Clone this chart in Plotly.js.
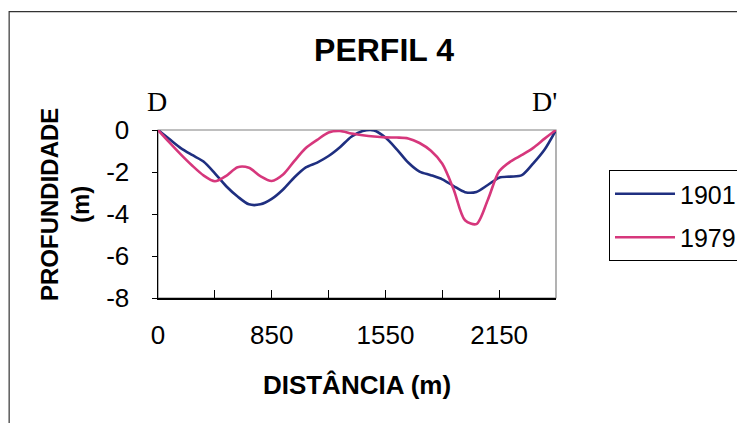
<!DOCTYPE html>
<html>
<head>
<meta charset="utf-8">
<script src="https://cdn.plot.ly/plotly-3.0.1.min.js"></script>
<style>html,body{margin:0;padding:0;background:#fff;}#chart{width:737px;height:423px;}</style>
</head>
<body>
<div id="chart"></div>
<script>
// Distance categories (m)
var distances = ['0','85','170','255','340','425','510','595','680','765','850',
  '920','990','1060','1130','1200','1270','1340','1410','1480','1550',
  '1610','1670','1730','1790','1850','1910','1970','2030','2090','2150',
  '2210','2270','2330','2390','2450'];
// Depth (m), survey of 1901
var depth1901 = [0,-0.43,-0.86,-1.19,-1.50,-2.06,-2.68,-3.17,-3.54,-3.54,-3.28,
  -2.83,-2.25,-1.78,-1.55,-1.24,-0.82,-0.32,-0.05,-0.02,-0.36,
  -0.92,-1.55,-1.98,-2.15,-2.35,-2.67,-2.96,-2.95,-2.62,-2.27,
  -2.22,-2.15,-1.59,-0.93,0];
// Depth (m), survey of 1979
var depth1979 = [0,-0.59,-1.16,-1.69,-2.16,-2.44,-2.18,-1.77,-1.80,-2.20,-2.43,
  -2.12,-1.47,-0.86,-0.47,-0.12,-0.05,-0.17,-0.25,-0.31,-0.35,
  -0.36,-0.40,-0.62,-0.99,-1.61,-2.83,-4.30,-4.48,-3.33,-1.97,
  -1.50,-1.19,-0.85,-0.41,0];
var tickCats = ['0','425','850','1200','1550','1850','2150','2450'];
var tickLabels = ['0','','850','','1550','','2150',''];
var yTicks = [0,-2,-4,-6,-8];
var yTickLabels = ['0','-2','-4','-6','-8'];

var FONT = '"Liberation Sans", Arial, sans-serif';
var traces = [
  {x: distances, y: depth1901, name: '1901', legendgroup: 'a', type: 'scatter', mode: 'lines',
   line: {color: '#1f2f80', width: 2.6, shape: 'spline', smoothing: 0.8}},
  {x: distances, y: depth1979, name: '1979', legendgroup: 'b', type: 'scatter', mode: 'lines',
   line: {color: '#d6377c', width: 2.6, shape: 'spline', smoothing: 0.8}}
];

var layout = {
  width: 737, height: 423,
  margin: {l: 158, r: 181, t: 130, b: 125, pad: 0, autoexpand: false},
  paper_bgcolor: '#fff', plot_bgcolor: '#fff',
  font: {family: FONT, color: '#000'},
  showlegend: true,
  legend: {xref: 'container', yref: 'container', x: 609 / 737, y: 1 - 170 / 423,
    xanchor: 'left', yanchor: 'top',
    bordercolor: '#000', borderwidth: 1, bgcolor: '#fff', traceorder: 'grouped', tracegroupgap: 8,
    font: {family: FONT, size: 25, color: '#000'}, itemwidth: 60, entrywidth: 160},
  xaxis: {type: 'category', range: [0, distances.length - 1],
    tickmode: 'array', tickvals: tickCats, ticktext: tickLabels,
    ticks: 'inside', ticklen: 8, tickwidth: 1, tickcolor: '#000',
    showline: true, linecolor: '#000', linewidth: 1.5, showgrid: false, zeroline: false,
    tickfont: {family: FONT, size: 26, color: '#000'}, ticklabelstandoff: 13, automargin: false,
    title: {text: 'DISTÂNCIA (m)', font: {family: FONT, size: 26, color: '#000', weight: 'bold'}, standoff: 27}
  },
  yaxis: {range: [-8, 0], tickmode: 'array', tickvals: yTicks, ticktext: yTickLabels,
    ticks: 'outside', ticklen: 5, tickwidth: 1, tickcolor: '#000', automargin: false,
    showline: true, linecolor: '#000', linewidth: 1.5, showgrid: false, zeroline: false,
    tickfont: {family: FONT, size: 26, color: '#000'}, ticklabelstandoff: 17
  },
  title: {text: 'PERFIL 4', x: 384/737, xanchor: 'center', y: 1 - 50/423, yanchor: 'middle',
    font: {family: FONT, size: 32, color: '#000', weight: 'bold'}},
  shapes: [
    {type: 'rect', xref: 'paper', yref: 'paper', x0: 0, x1: 1, y0: 0, y1: 1,
     line: {color: '#808080', width: 1.2}, layer: 'below'},
    {type: 'rect', xref: 'paper', yref: 'paper', x0: -0.374, x1: 1.6, y0: -0.9, y1: 1.705,
     line: {color: '#333', width: 1.2}, layer: 'below'}
  ],
  annotations: [
    {text: 'PROFUNDIDADE<br>(m)', xref: 'paper', yref: 'paper',
     x: (65 - 158) / 398, y: (298 - 205) / 168, xanchor: 'center', yanchor: 'middle',
     textangle: -90, showarrow: false,
     font: {family: FONT, size: 24, color: '#000', weight: 'bold'}},
    {text: 'D', xref: 'paper', yref: 'paper', x: (157 - 158) / 398, y: (298 - 101) / 168,
     xanchor: 'center', yanchor: 'middle', showarrow: false,
     font: {family: '"Liberation Serif", "Times New Roman", serif', size: 28, color: '#000'}},
    {text: "D'", xref: 'paper', yref: 'paper', x: (544 - 158) / 398, y: (298 - 101) / 168,
     xanchor: 'center', yanchor: 'middle', showarrow: false,
     font: {family: '"Liberation Serif", "Times New Roman", serif', size: 28, color: '#000'}}
  ]
};

Plotly.newPlot('chart', traces, layout, {staticPlot: true, displayModeBar: false});
</script>
</body>
</html>
